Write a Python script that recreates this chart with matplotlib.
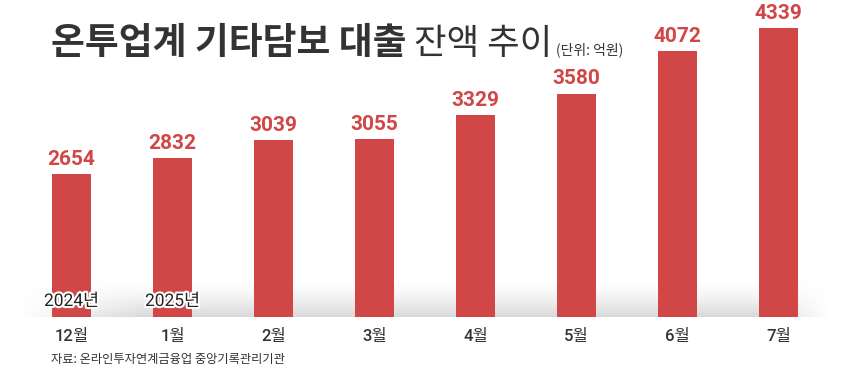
import numpy as np
import matplotlib.pyplot as plt
import matplotlib.patheffects as pe

# data
months = ['12월', '1월', '2월', '3월', '4월', '5월', '6월', '7월']
balance = [2654, 2832, 3039, 3055, 3329, 3580, 4072, 4339]
year_marks = {0: '2024년', 1: '2025년'}

title_bold = '온투업계 기타담보 대출'
title_reg = '잔액 추이'
unit = '(단위: 억원)'
source = '자료: 온라인투자연계금융업 중앙기록관리기관'

RED = '#d14747'
KR = ['Noto Sans CJK KR', 'DejaVu Sans']
NUM = ['Roboto', 'Noto Sans CJK KR']

W, H = 860, 372
fig = plt.figure(figsize=(W / 100, H / 100), dpi=100)

# soft grey floor behind the bars
bg = fig.add_axes([0, 0, 1, 1])
bg.set_xlim(0, W)
bg.set_ylim(H, 0)
bg.axis('off')
gy = np.linspace(0, 1, 60)[:, None]
gx = np.linspace(0, 1, 400)[None, :]
fade = np.clip(np.minimum(gx / 0.15, (1 - gx) / 0.08), 0, 1)
shade = (gy ** 1.5) * fade * 0.15
img = np.ones((60, 400, 3)) * (1 - shade[..., None])
bg.imshow(img, extent=(20, 830, 317, 280), aspect='auto', zorder=0)

# bar axes: baseline 1000 at y=317px, 0.0866 px per unit
ax = fig.add_axes([0, 55 / H, 1, 317 / H])
ax.patch.set_alpha(0)
x = np.arange(len(months))
base = 1000
ax.set_xlim(-0.708, 7.807)
ax.set_ylim(base, base + 317 / 0.0866)
ax.bar(x, [v - base for v in balance], bottom=base, width=0.386, color=RED, zorder=2)
for xi, v in zip(x, balance):
    ax.text(xi, v + 60, f'{v}', ha='center', va='bottom', color=RED,
            fontsize=15, fontweight='bold', family=NUM)
for xi, lab in year_marks.items():
    ax.text(xi, base + 185, lab, ha='center', va='center', color='#222222',
            fontsize=12.5, family=NUM, zorder=3,
            path_effects=[pe.withStroke(linewidth=3, foreground='white')])
for xi, lab in zip(x, months):
    ax.text(xi, base - 220, lab, ha='center', va='center', color='#333333',
            fontsize=12, fontweight='medium', family=NUM, clip_on=False)
ax.axis('off')

# title
fig.canvas.draw()
r = fig.canvas.get_renderer()
inv = bg.transData.inverted()
t1 = bg.text(51, 54, title_bold, fontsize=26.5, fontweight='bold', color='#333333',
             family=KR, va='baseline')
x2 = inv.transform((t1.get_window_extent(r).x1, 0))[0]
t2 = bg.text(x2 + 8, 54, title_reg, fontsize=25.5, color='#333333', family=KR, va='baseline')
x3 = inv.transform((t2.get_window_extent(r).x1, 0))[0]
bg.text(x3 + 3, 54, unit, fontsize=10, color='#333333', family=KR, va='baseline')

bg.text(51, 359, source, fontsize=8.8, color='#333333', family=KR, va='center')

fig.savefig('out.png', dpi=100)
